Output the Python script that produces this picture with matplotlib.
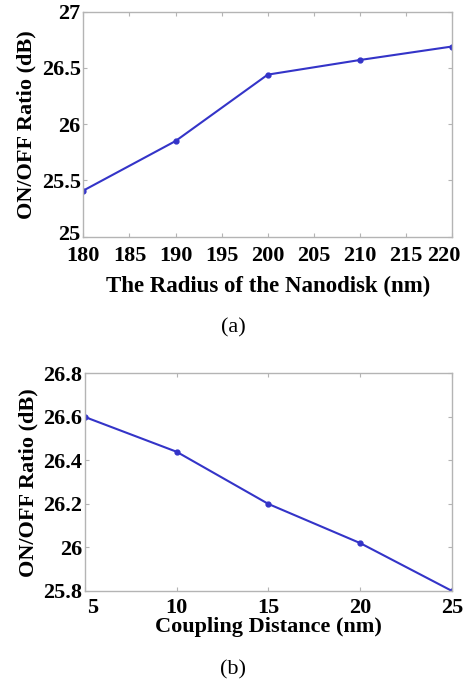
import matplotlib
matplotlib.use('Agg')
import matplotlib.pyplot as plt
import matplotlib.transforms as mtransforms

radius = [180, 190, 200, 210, 220]
ratio_a = [25.41, 25.85, 26.44, 26.57, 26.69]

distance = [5, 10, 15, 20, 25]
ratio_b = [26.60, 26.44, 26.20, 26.02, 25.80]

plt.rcParams['font.family'] = ['Liberation Serif', 'DejaVu Serif']

LINE = '#3434c8'
SPINE = '#b4b4b4'

fig = plt.figure(figsize=(4.66, 6.84), dpi=100)
ax1 = fig.add_axes([0.179, 0.654, 0.791, 0.329])
ax2 = fig.add_axes([0.182, 0.136, 0.788, 0.318])

def style(ax, xpad):
    for s in ax.spines.values():
        s.set_color(SPINE)
        s.set_linewidth(1.0)
    ax.tick_params(direction='in', length=3, width=0.8, color=SPINE,
                   top=True, right=True, labelsize=16)
    ax.tick_params(axis='x', pad=xpad)
    ax.tick_params(axis='y', pad=2)
    for lab in ax.get_xticklabels() + ax.get_yticklabels():
        lab.set_fontweight('bold')

def nudge(lab, dx_px, dy_px=0):
    lab.set_transform(lab.get_transform() + mtransforms.ScaledTranslation(dx_px / 100, dy_px / 100, fig.dpi_scale_trans))

ax1.plot(radius, ratio_a, color=LINE, lw=1.5, marker='o', ms=3.5)
ax1.set_xlim(180, 220)
ax1.set_ylim(25, 27)
ax1.set_xticks(range(180, 221, 5))
ax1.set_yticks([25, 25.5, 26, 26.5, 27])
ax1.set_yticklabels(['25', '25.5', '26', '26.5', '27'])
style(ax1, 7)
nudge(ax1.get_xticklabels()[-1], -8)
nudge(ax1.get_yticklabels()[0], 0, 4)
ax1.set_xlabel('The Radius of the Nanodisk (nm)', fontsize=16.5, fontweight='bold', labelpad=7)
ax1.set_ylabel('ON/OFF Ratio (dB)', fontsize=16, fontweight='bold', labelpad=4)

ax2.plot(distance, ratio_b, color=LINE, lw=1.5, marker='o', ms=3.5)
ax2.set_xlim(5, 25)
ax2.set_ylim(25.8, 26.8)
ax2.set_xticks([5, 10, 15, 20, 25])
ax2.set_yticks([25.8, 26, 26.2, 26.4, 26.6, 26.8])
ax2.set_yticklabels(['25.8', '26', '26.2', '26.4', '26.6', '26.8'])
style(ax2, 5)
# first x label sits a bit to the right, clear of the y labels
nudge(ax2.get_xticklabels()[0], 8)
ax2.set_xlabel('Coupling Distance (nm)', fontsize=16, fontweight='bold', labelpad=-1)
ax2.set_ylabel('ON/OFF Ratio (dB)', fontsize=16, fontweight='bold', labelpad=3)

fig.text(0.5, 1 - 328/684, '(a)', ha='center', va='center', fontsize=16)
fig.text(0.5, 1 - 670/684, '(b)', ha='center', va='center', fontsize=16)

fig.savefig('out.png', dpi=100)
